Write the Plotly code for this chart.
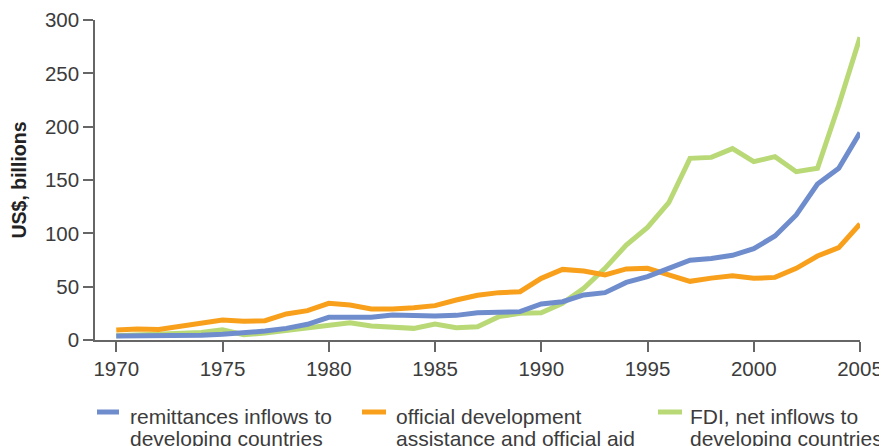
import plotly.graph_objects as go

years = list(range(1970, 2006))

remittances = [3.7, 3.7, 3.5, 3.5, 4.4, 5.3, 6.3, 8.4, 10.9, 14.7,
               21.3, 21.3, 21.3, 23.4, 22.5, 22.5, 23.1, 25.6, 25.9, 26.6,
               33.8, 35.9, 42.2, 44.4, 54.0, 59.4, 67.2, 74.8, 76.5, 79.4,
               85.6, 97.5, 117.2, 146.2, 161.0, 194.4]

oda = [9.4, 10.3, 9.8, 12.5, 16.3, 18.7, 17.5, 18.1, 24.4, 27.5,
       34.4, 32.8, 29.0, 29.0, 30.3, 32.2, 37.5, 41.9, 44.4, 45.3,
       57.8, 66.2, 64.7, 61.0, 66.6, 67.2, 61.0, 55.0, 58.0, 60.3,
       57.8, 58.7, 67.2, 78.7, 86.6, 108.8]

fdi = [4.0, 5.0, 5.5, 6.0, 7.0, 9.5, 5.0, 6.5, 9.0, 10.5,
       13.1, 16.2, 13.1, 11.6, 10.9, 15.0, 11.6, 12.5, 21.9, 25.0,
       25.6, 34.4, 48.4, 67.2, 89.0, 105.6, 128.7, 170.3, 171.2, 179.4,
       167.2, 171.9, 157.8, 161.0, 220.0, 283.8]

legend_lines = [["remittances inflows to", "developing countries"],
                ["official development", "assistance and official aid"],
                ["FDI, net inflows to", "developing countries"]]
colors = ["#6f8dcc", "#f8a01c", "#b9d977"]

x_ticks = [1970, 1975, 1980, 1985, 1990, 1995, 2000, 2005]
y_ticks = [0, 50, 100, 150, 200, 250, 300]

FONT = "Liberation Sans"
TXT = "#3c3c3c"

# figure geometry (page has an 8px body margin)
W, H = 879, 438
L, R, T, B = 87, 27, 12, 106
PW, PH = W - L - R, H - T - B


def px_x(x):
    return (x - L) / PW


def px_y(y):
    return (T + PH - y) / PH


fig = go.Figure()
series = [remittances, oda, fdi]
for i in (2, 1, 0):  # blue drawn on top
    fig.add_trace(go.Scatter(x=years, y=series[i], mode="lines",
                             name=" ".join(legend_lines[i]), showlegend=False,
                             line=dict(color=colors[i], width=5)))

# legend built from symbol lines and text
sym_x = [(89, 111), (354, 378), (650, 674)]
txt_x = [121, 387, 681]
sym_y = 404
line_y = [408, 430.5]
shapes, annos = [], []
for i in range(3):
    shapes.append(dict(type="line", xref="paper", yref="paper",
                       x0=px_x(sym_x[i][0]), x1=px_x(sym_x[i][1]),
                       y0=px_y(sym_y), y1=px_y(sym_y),
                       line=dict(color=colors[i], width=5)))
    for j in range(2):
        annos.append(dict(text=legend_lines[i][j], xref="paper", yref="paper",
                          x=px_x(txt_x[i]), y=px_y(line_y[j]), xanchor="left",
                          yanchor="middle", showarrow=False, borderpad=0,
                          font=dict(family=FONT, size=21, color=TXT)))

fig.update_layout(
    width=W, height=H,
    margin=dict(l=L, r=R, t=T, b=B, autoexpand=False),
    paper_bgcolor="white", plot_bgcolor="white",
    font=dict(family=FONT, size=20.5, color=TXT),
    showlegend=False,
    shapes=shapes, annotations=annos,
    xaxis=dict(range=[1969, 2005], tickvals=x_ticks, ticktext=[str(v) for v in x_ticks],
               showgrid=False, zeroline=False, showline=True, linecolor="#666666",
               linewidth=1.5, ticks="outside", ticklen=10, tickcolor="#666666",
               tickwidth=1.5, automargin=False,
               tickfont=dict(size=20.5, color=TXT, family=FONT)),
    yaxis=dict(range=[0, 300], tickvals=y_ticks, showgrid=False, zeroline=False,
               showline=True, linecolor="#666666", linewidth=1.5, ticks="outside",
               ticklen=10, tickcolor="#666666", tickwidth=1.5, automargin=False,
               tickfont=dict(size=20.5, color=TXT, family=FONT),
               title=dict(text="<b>US$, billions</b>", standoff=14,
                          font=dict(size=19.5, color="#222222", family=FONT))),
)

fig.write_html("out.html")
